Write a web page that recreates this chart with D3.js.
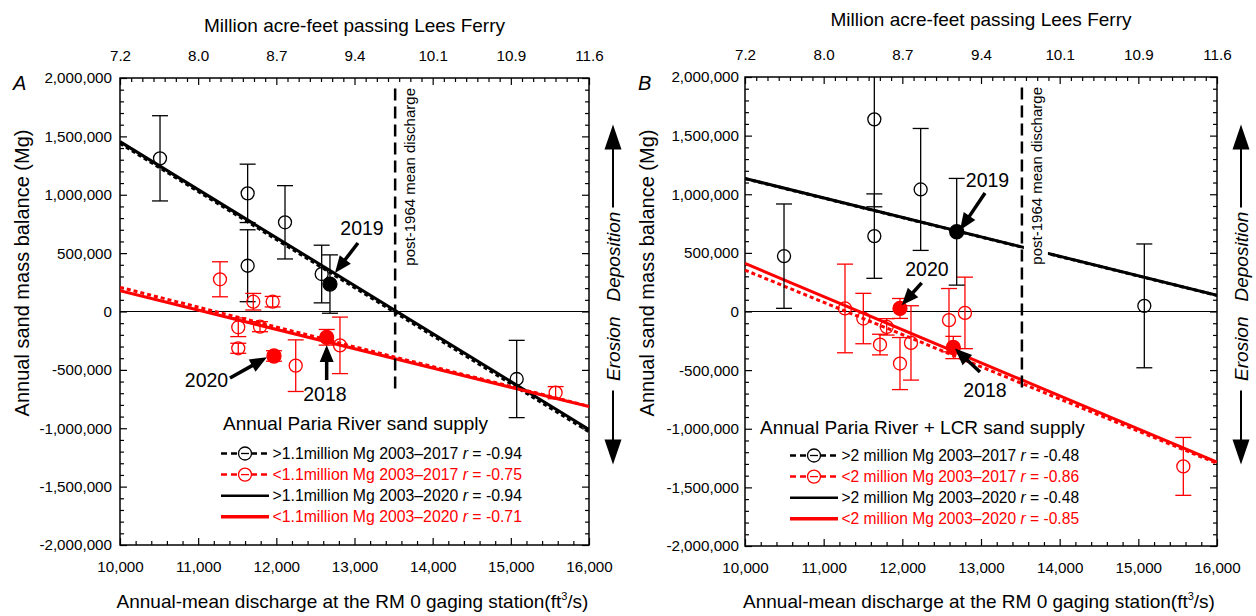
<!DOCTYPE html>
<html><head><meta charset="utf-8">
<script src="https://cdn.jsdelivr.net/npm/d3@7"></script>
<style>
body{margin:0;background:#fff}
svg{display:block}
text{font-family:"Liberation Sans",Arial,sans-serif}
</style>
</head><body>
<svg id="c" width="1256" height="616"></svg>
<script>
// ---------- shared axes ----------
const xTickValues = [10000, 11000, 12000, 13000, 14000, 15000, 16000];
const topTickLabels = ["7.2", "8.0", "8.7", "9.4", "10.1", "10.9", "11.6"];
const yTickValues = [2000000, 1500000, 1000000, 500000, 0, -500000, -1000000, -1500000, -2000000];
const meanDischarge = 13520;
const fitX = [10000, 16000];

// ---------- Panel A : Paria River ----------
const aBlackX   = [10512, 11633, 11633, 12111, 12580, 15075];
const aBlackY   = [1312000, 1012000, 392000, 764000, 321000, -578000];
const aBlackErr = [365000, 250000, 308000, 314000, 247000, 331000];
const aBlackFilledX = [12686];
const aBlackFilledY = [235000];
const aBlackFilledErr = [250000];
const aRedX   = [11279, 11705, 11953, 11513, 11791, 11513, 12248, 12814, 15573];
const aRedY   = [276000, 84000, 84000, -135000, -130000, -315000, -464000, -290000, -695000];
const aRedErr = [150000, 71000, 45000, 80000, 43000, 43000, 221000, 242000, 52000];
const aRedFilledX = [11970, 12644];
const aRedFilledY = [-381000, -221000];
const aRedFilledErr = [45000, 67000];
const aBlackFit2017 = [1440000, -1030000];
const aBlackFit2020 = [1455000, -1011000];
const aRedFit2017 = [207000, -812000];
const aRedFit2020 = [178000, -815000];
const aLegendTitle = "Annual Paria River sand supply";
const aLegendLabels = [">1.1million Mg 2003\u20132017 ", "<1.1million Mg 2003\u20132017 ", ">1.1million Mg 2003\u20132020 ", "<1.1million Mg 2003\u20132020 "];
const aLegendR = ["-0.94", "-0.75", "-0.94", "-0.71"];

// ---------- Panel B : Paria River + LCR ----------
const bBlackX   = [10496, 11644, 11644, 12233, 15076];
const bBlackY   = [472000, 1639000, 643000, 1041000, 48000];
const bBlackErr = [445000, 746000, 360000, 520000, 528000];
const bBlackFilledX = [12691];
const bBlackFilledY = [680000];
const bBlackFilledErr = [455000];
const bRedX   = [11271, 11504, 11716, 11801, 11970, 12110, 12593, 12796, 15572];
const bRedY   = [26000, -60000, -282000, -131000, -444000, -268000, -74000, -12000, -1321000];
const bRedErr = [378000, 215000, 88000, 70000, 222000, 317000, 270000, 305000, 247000];
const bRedFilledX = [11970, 12648];
const bRedFilledY = [26000, -307000];
const bRedFilledErr = [85000, 95000];
const bBlackFit2017 = [1133000, 137000];
const bBlackFit2020 = [1135000, 139000];
const bRedFit2017 = [353000, -1295000];
const bRedFit2020 = [410000, -1284000];
const bLegendTitle = "Annual Paria River + LCR sand supply";
const bLegendLabels = [">2 million Mg 2003\u20132017 ", "<2 million Mg 2003\u20132017 ", ">2 million Mg 2003\u20132020 ", "<2 million Mg 2003\u20132020 "];
const bLegendR = ["-0.48", "-0.86", "-0.48", "-0.85"];

const RED = "#ff0000";
const svg = d3.select("#c");
const fmtY = d => d3.format(",")(d).replace("\u2212", "-");

function arrow(g, x1, y1, x2, y2, L, W, sw) {
  const dx = x2 - x1, dy = y2 - y1, len = Math.hypot(dx, dy);
  const ux = dx / len, uy = dy / len, nx = -uy, ny = ux;
  const bx = x2 - ux * L, by = y2 - uy * L;
  g.append("line").attr("x1", x1).attr("y1", y1).attr("x2", bx + ux * 1).attr("y2", by + uy * 1)
    .attr("stroke", "#000").attr("stroke-width", sw);
  g.append("path").attr("d", `M${x2},${y2}L${bx + nx * W / 2},${by + ny * W / 2}L${bx - nx * W / 2},${by - ny * W / 2}Z`)
    .attr("fill", "#000");
}

function panel(cfg) {
  const g = svg.append("g");
  const x = d3.scaleLinear().domain([10000, 16000]).range([cfg.left, cfg.right]);
  const y = d3.scaleLinear().domain([-2000000, 2000000]).range([cfg.bottom, cfg.top]);
  const clipId = "clip" + cfg.id;
  svg.append("clipPath").attr("id", clipId).append("rect")
    .attr("x", cfg.left).attr("y", cfg.top).attr("width", cfg.right - cfg.left).attr("height", cfg.bottom - cfg.top);

  const styleAxis = (sel, fs) => {
    sel.select(".domain").remove();
    sel.selectAll(".tick line").attr("stroke", "#000").attr("stroke-width", 1.2);
    sel.selectAll("text").attr("font-size", fs).attr("fill", "#000").attr("font-family", '"Liberation Sans",Arial,sans-serif');
  };
  const minorX = d3.range(10000, 16001, 200).filter(v => v % 1000 !== 0);
  const minorTop = d3.range(0, 43).map(i => 10000 + i * 1000 / 7).filter((v, i) => i % 7 !== 0);
  const minorY = d3.range(-2000000, 2000001, 100000).filter(v => v % 500000 !== 0);

  // bottom
  g.append("g").attr("transform", `translate(0,${cfg.bottom})`)
    .call(d3.axisBottom(x).tickValues(xTickValues).tickSize(-7).tickPadding(16).tickFormat(d3.format(",")))
    .call(s => styleAxis(s, 15.2));
  g.append("g").attr("transform", `translate(0,${cfg.bottom})`)
    .call(d3.axisBottom(x).tickValues(minorX).tickSize(-4).tickFormat(""))
    .call(s => styleAxis(s, 15));
  // top
  g.append("g").attr("transform", `translate(0,${cfg.top})`)
    .call(d3.axisTop(x).tickValues(xTickValues).tickSize(-7).tickPadding(17).tickFormat((d, i) => topTickLabels[i]))
    .call(s => styleAxis(s, 15.2));
  g.append("g").attr("transform", `translate(0,${cfg.top})`)
    .call(d3.axisTop(x).tickValues(minorTop).tickSize(-4).tickFormat(""))
    .call(s => styleAxis(s, 15));
  // left
  g.append("g").attr("transform", `translate(${cfg.left},0)`)
    .call(d3.axisLeft(y).tickValues(yTickValues).tickSize(-7).tickPadding(cfg.yPad).tickFormat(fmtY))
    .call(s => styleAxis(s, 15.2));
  g.append("g").attr("transform", `translate(${cfg.left},0)`)
    .call(d3.axisLeft(y).tickValues(minorY).tickSize(-4).tickFormat(""))
    .call(s => styleAxis(s, 15));
  // right
  g.append("g").attr("transform", `translate(${cfg.right},0)`)
    .call(d3.axisRight(y).tickValues(yTickValues).tickSize(-7).tickFormat(""))
    .call(s => styleAxis(s, 15));
  g.append("g").attr("transform", `translate(${cfg.right},0)`)
    .call(d3.axisRight(y).tickValues(minorY).tickSize(-4).tickFormat(""))
    .call(s => styleAxis(s, 15));

  // frame
  g.append("rect").attr("x", cfg.left).attr("y", cfg.top).attr("width", cfg.right - cfg.left)
    .attr("height", cfg.bottom - cfg.top).attr("fill", "none").attr("stroke", "#000").attr("stroke-width", 1.5);

  const plot = g.append("g").attr("clip-path", `url(#${clipId})`);
  // zero line
  plot.append("line").attr("x1", x(10000)).attr("x2", x(16000)).attr("y1", y(0)).attr("y2", y(0))
    .attr("stroke", "#000").attr("stroke-width", 1.2);

  // regression lines
  const line = d3.line().x(d => x(d[0])).y(d => y(d[1]));
  const fits = [
    {v: cfg.blackFit2017, c: "#000", dash: "4,3"},
    {v: cfg.redFit2017, c: RED, dash: "4,3"},
    {v: cfg.blackFit2020, c: "#000", dash: null},
    {v: cfg.redFit2020, c: RED, dash: null}
  ];
  fits.forEach(f => {
    plot.append("path").datum(fitX.map((xv, i) => [xv, f.v[i]])).attr("d", line)
      .attr("fill", "none").attr("stroke", f.c).attr("stroke-width", 3)
      .attr("stroke-dasharray", f.dash);
  });

  // mean discharge line + text
  const vx = x(meanDischarge);
  plot.append("rect").attr("x", vx + 2).attr("y", y(2000000) + 8).attr("width", 24).attr("height", 178).attr("fill", "#fff");
  plot.append("line").attr("x1", vx).attr("x2", vx).attr("y1", y(1910000)).attr("y2", y(-660000))
    .attr("stroke", "#000").attr("stroke-width", 2.5).attr("stroke-dasharray", "12,6");
  plot.append("text").attr("transform", `translate(${vx + 20},${cfg.top + 10}) rotate(-90)`)
    .attr("text-anchor", "end").attr("font-size", 15).text("post-1964 mean discharge");

  // error bars + points
  const drawSeries = (xs, ys, es, color, filled) => {
    xs.forEach((xv, i) => {
      const cx = x(xv), yt = y(ys[i] + es[i]), yb = y(ys[i] - es[i]);
      plot.append("line").attr("x1", cx).attr("x2", cx).attr("y1", yt).attr("y2", yb).attr("stroke", color).attr("stroke-width", 1.3);
      plot.append("line").attr("x1", cx - 8).attr("x2", cx + 8).attr("y1", yt).attr("y2", yt).attr("stroke", color).attr("stroke-width", 1.3);
      plot.append("line").attr("x1", cx - 8).attr("x2", cx + 8).attr("y1", yb).attr("y2", yb).attr("stroke", color).attr("stroke-width", 1.3);
      plot.append("circle").attr("cx", cx).attr("cy", y(ys[i])).attr("r", filled ? 7 : 6.5)
        .attr("fill", filled ? color : "none").attr("stroke", color).attr("stroke-width", 1.3);
    });
  };
  drawSeries(cfg.blackX, cfg.blackY, cfg.blackErr, "#000", false);
  drawSeries(cfg.redX, cfg.redY, cfg.redErr, RED, false);
  drawSeries(cfg.blackFilledX, cfg.blackFilledY, cfg.blackFilledErr, "#000", true);
  drawSeries(cfg.redFilledX, cfg.redFilledY, cfg.redFilledErr, RED, true);

  // annotations
  cfg.annotations.forEach(a => {
    g.append("text").attr("x", x(a.tx)).attr("y", y(a.ty)).attr("dy", "0.36em").attr("text-anchor", "middle")
      .attr("font-size", 19.5).text(a.label);
    arrow(g, x(a.from[0]), y(a.from[1]), x(a.to[0]), y(a.to[1]), 17, 14, 3.5);
  });

  // legend
  const lg = g.append("g");
  lg.append("text").attr("x", cfg.left + cfg.legTitleDx).attr("y", y(0) + cfg.legTitleDy).attr("dy", "0.36em")
    .attr("font-size", 19).text(cfg.legendTitle);
  const colors = ["#000", RED, "#000", RED];
  cfg.legendLabels.forEach((lab, i) => {
    const ly = y(0) + cfg.legRow0 + i * 21.1;
    const lx0 = cfg.left + cfg.legLineDx, lx1 = lx0 + 48;
    lg.append("line").attr("x1", lx0).attr("x2", lx1).attr("y1", ly).attr("y2", ly)
      .attr("stroke", colors[i]).attr("stroke-width", i === 3 ? 3.5 : 2.5)
      .attr("stroke-dasharray", i < 2 ? "6,4" : null);
    if (i < 2) {
      lg.append("circle").attr("cx", (lx0 + lx1) / 2).attr("cy", ly).attr("r", 6.5)
        .attr("fill", "#fff").attr("stroke", colors[i]).attr("stroke-width", 1.3);
      lg.append("line").attr("x1", (lx0 + lx1) / 2 - 4).attr("x2", (lx0 + lx1) / 2 + 4).attr("y1", ly).attr("y2", ly)
        .attr("stroke", colors[i]).attr("stroke-width", 1.3);
    }
    const t = lg.append("text").attr("x", lx1 + 3.5).attr("y", ly).attr("dy", "0.36em").attr("font-size", cfg.legFont).attr("fill", colors[i]);
    t.append("tspan").text(lab);
    t.append("tspan").attr("font-style", "italic").text("r");
    t.append("tspan").text(" = " + cfg.legendR[i]);
  });

  // Deposition / Erosion
  const ex = cfg.right + 24, y0 = y(0);
  arrow(g, ex, y0 - 104, ex, y0 - 187, 25, 17, 2);
  arrow(g, ex, y0 + 79, ex, y0 + 153, 25, 17, 2);
  g.append("text").attr("transform", `translate(${ex + 7},${y0 - 10}) rotate(-90)`).attr("text-anchor", "start")
    .attr("font-size", 19).attr("font-style", "italic").text("Deposition");
  g.append("text").attr("transform", `translate(${ex + 7},${y0 + 5}) rotate(-90)`).attr("text-anchor", "end")
    .attr("font-size", 19).attr("font-style", "italic").text("Erosion");

  // titles
  const cx = (cfg.left + cfg.right) / 2;
  g.append("text").attr("x", cx).attr("y", cfg.topTitleY).attr("text-anchor", "middle").attr("font-size", 19)
    .text("Million acre-feet passing Lees Ferry");
  const xt = g.append("text").attr("x", cx - 2).attr("y", 608).attr("text-anchor", "middle").attr("font-size", 19);
  xt.append("tspan").text("Annual-mean discharge at the RM 0 gaging station(ft");
  xt.append("tspan").attr("font-size", 11).attr("dy", -8).text("3");
  xt.append("tspan").attr("dy", 8).text("/s)");
  g.append("text").attr("transform", `translate(${cfg.left - 91},273) rotate(-90)`).attr("text-anchor", "middle")
    .attr("font-size", 20).text("Annual sand mass balance (Mg)");
  g.append("text").attr("x", cfg.left - 107).attr("y", 90).attr("font-size", 20).attr("font-style", "italic").text(cfg.letter);
}

panel({
  id: "A", letter: "A", left: 120, right: 589, top: 78, bottom: 545, yPad: 8, topTitleY: 31.5, legFont: 15.8,
  blackX: aBlackX, blackY: aBlackY, blackErr: aBlackErr,
  blackFilledX: aBlackFilledX, blackFilledY: aBlackFilledY, blackFilledErr: aBlackFilledErr,
  redX: aRedX, redY: aRedY, redErr: aRedErr,
  redFilledX: aRedFilledX, redFilledY: aRedFilledY, redFilledErr: aRedFilledErr,
  blackFit2017: aBlackFit2017, blackFit2020: aBlackFit2020, redFit2017: aRedFit2017, redFit2020: aRedFit2020,
  legendTitle: aLegendTitle, legendLabels: aLegendLabels, legendR: aLegendR,
  legTitleDx: 103, legTitleDy: 111.5, legLineDx: 101, legRow0: 142,
  annotations: [
    {label: "2019", tx: 13096, ty: 718000, from: [13044, 587000], to: [12750, 330000]},
    {label: "2020", tx: 11107, ty: -587000, from: [11407, -570000], to: [11880, -392000]},
    {label: "2018", tx: 12622, ty: -707000, from: [12644, -587000], to: [12644, -287000]}
  ]
});

panel({
  id: "B", letter: "B", left: 745, right: 1217, top: 77, bottom: 546, yPad: 6, topTitleY: 25.5, legFont: 15.6,
  blackX: bBlackX, blackY: bBlackY, blackErr: bBlackErr,
  blackFilledX: bBlackFilledX, blackFilledY: bBlackFilledY, blackFilledErr: bBlackFilledErr,
  redX: bRedX, redY: bRedY, redErr: bRedErr,
  redFilledX: bRedFilledX, redFilledY: bRedFilledY, redFilledErr: bRedFilledErr,
  blackFit2017: bBlackFit2017, blackFit2020: bBlackFit2020, redFit2017: bRedFit2017, redFit2020: bRedFit2020,
  legendTitle: bLegendTitle, legendLabels: bLegendLabels, legendR: bLegendR,
  legTitleDx: 15, legTitleDy: 115.5, legLineDx: 45, legRow0: 144,
  annotations: [
    {label: "2019", tx: 13083, ty: 1121000, from: [13051, 1010000], to: [12733, 694000]},
    {label: "2020", tx: 12313, ty: 361000, from: [12246, 244000], to: [11992, 54000]},
    {label: "2018", tx: 13051, ty: -666000, from: [12987, -516000], to: [12669, -316000]}
  ]
});
</script>
</body></html>
